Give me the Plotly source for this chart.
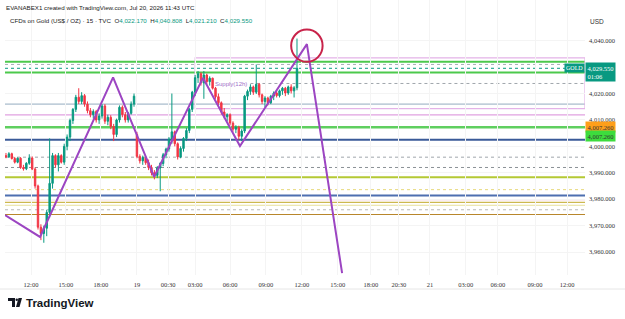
import plotly.graph_objects as go

# ---------------- data ----------------
bar_index = list(range(101))
opens = [3996.5, 3996.0, 3997.2, 3995.4, 3994.0, 3995.5, 3992.0, 3991.5, 3993.6, 3995.6,
         3991.4, 3985.0, 3969.4, 3967.0, 3969.0, 3975.0, 3986.0, 3996.5, 3993.0, 3996.5,
         3994.0, 4000.0, 4003.5, 4009.8, 4014.0, 4018.6, 4017.0, 4019.2, 4016.0, 4013.5,
         4012.0, 4013.2, 4010.0, 4011.5, 4015.3, 4009.5, 4011.0, 4007.5, 4004.5, 4010.0,
         4014.8, 4012.0, 4010.0, 4012.5, 4016.0, 4004.5, 3996.2, 3994.5, 3995.8, 3993.8,
         3992.0, 3990.0, 3989.0, 3991.8, 3993.5, 3996.8, 3999.0, 4002.8, 4005.5, 4001.0,
         3996.0, 3999.2, 4003.0, 4006.0, 4014.0, 4020.5, 4026.0, 4027.5, 4024.0, 4027.0,
         4024.5, 4025.8, 4022.0, 4018.8, 4016.5, 4013.0, 4011.2, 4012.0, 4008.8, 4006.5,
         4007.2, 4003.8, 4005.8, 4019.0, 4020.8, 4022.5, 4020.5, 4023.5, 4019.5, 4017.0,
         4018.3, 4016.5, 4019.0, 4020.2, 4019.2, 4021.0, 4022.0, 4020.2, 4022.5, 4021.0,
         4022.17]
highs = [3997.5, 3997.8, 3997.6, 3996.0, 3995.8, 3995.9, 3993.0, 3994.0, 3997.0, 3996.2,
         3992.0, 3985.5, 3970.5, 3970.0, 3976.0, 4003.0, 3997.5, 3997.0, 3997.5, 3997.0,
         4001.0, 4004.5, 4010.5, 4014.5, 4019.5, 4022.0, 4020.5, 4019.8, 4017.0, 4014.5,
         4014.0, 4013.8, 4012.5, 4016.0, 4016.0, 4012.0, 4011.8, 4008.5, 4010.5, 4015.5,
         4015.5, 4013.0, 4013.0, 4017.0, 4020.0, 4005.5, 3997.0, 3996.5, 3996.3, 3995.0,
         3993.0, 3991.0, 3992.5, 3994.0, 3997.5, 3999.5, 4003.5, 4020.0, 4006.0, 4001.5,
         4000.0, 4003.5, 4007.0, 4014.5, 4021.0, 4027.0, 4028.5, 4028.0, 4028.5, 4027.5,
         4026.5, 4026.0, 4022.5, 4020.0, 4017.0, 4014.5, 4012.5, 4012.5, 4009.5, 4008.0,
         4007.8, 4006.5, 4019.5, 4021.5, 4023.5, 4023.0, 4031.0, 4024.0, 4020.0, 4019.0,
         4018.8, 4019.5, 4020.8, 4021.0, 4021.5, 4022.5, 4022.5, 4023.0, 4023.5, 4022.8,
         4040.808]
lows = [3995.5, 3995.6, 3995.0, 3993.5, 3993.6, 3991.5, 3990.8, 3991.0, 3993.0, 3991.0,
        3984.0, 3968.5, 3964.5, 3963.5, 3966.0, 3973.0, 3984.0, 3992.0, 3990.5, 3993.5,
        3993.0, 3998.5, 4002.0, 4008.5, 4013.0, 4016.0, 4016.0, 4015.0, 4012.5, 4011.0,
        4010.5, 4009.0, 4008.5, 4010.5, 4008.5, 4008.0, 4006.5, 4002.0, 4003.5, 4009.0,
        4011.0, 4009.0, 4009.0, 4012.0, 4015.0, 3995.5, 3993.5, 3993.0, 3993.0, 3991.0,
        3989.0, 3987.5, 3988.0, 3983.0, 3992.5, 3995.5, 3998.0, 4001.0, 4000.0, 3995.0,
        3995.5, 3998.0, 4002.0, 4005.0, 4013.0, 4019.0, 4024.0, 4023.0, 4018.0, 4023.5,
        4023.0, 4021.5, 4018.0, 4015.5, 4012.0, 4010.5, 4009.5, 4008.0, 4005.5, 4005.0,
        4002.5, 4002.0, 4005.0, 4017.5, 4019.5, 4019.5, 4019.8, 4018.5, 4016.0, 4014.8,
        4015.5, 4016.0, 4017.5, 4018.5, 4018.5, 4019.5, 4019.0, 4019.5, 4020.0, 4018.5,
        4021.21]
closes = [3996.0, 3997.2, 3995.4, 3994.0, 3995.5, 3992.0, 3991.5, 3993.6, 3995.6, 3991.4,
          3985.0, 3969.4, 3967.0, 3969.0, 3975.0, 3986.0, 3996.5, 3993.0, 3996.5, 3994.0,
          4000.0, 4003.5, 4009.8, 4014.0, 4018.6, 4017.0, 4019.2, 4016.0, 4013.5, 4012.0,
          4013.2, 4010.0, 4011.5, 4015.3, 4009.5, 4011.0, 4007.5, 4004.5, 4010.0, 4014.8,
          4012.0, 4010.0, 4012.5, 4016.0, 4019.0, 3996.2, 3994.5, 3995.8, 3993.8, 3992.0,
          3990.0, 3989.0, 3991.8, 3993.5, 3996.8, 3999.0, 4002.8, 4005.5, 4001.0, 3996.0,
          3999.2, 4003.0, 4006.0, 4014.0, 4020.5, 4026.0, 4027.5, 4024.0, 4027.0, 4024.5,
          4025.8, 4022.0, 4018.8, 4016.5, 4013.0, 4011.2, 4012.0, 4008.8, 4006.5, 4007.2,
          4003.8, 4005.8, 4019.0, 4020.8, 4022.5, 4020.5, 4023.5, 4019.5, 4017.0, 4018.3,
          4016.5, 4019.0, 4020.2, 4019.2, 4021.0, 4022.0, 4020.2, 4022.5, 4021.0, 4022.17,
          4029.55]

time_tick_pos = [8.6, 20.6, 32.6, 45, 55.7, 65, 77, 89.3, 101.7, 114, 125.4, 135, 145.7, 158, 169, 181.8, 192.8]
time_tick_text = ["12:00", "15:00", "18:00", "19", "00:30", "03:00", "06:00", "09:00", "12:00",
                  "15:00", "18:00", "20:30", "21", "03:00", "06:00", "09:00", "12:00"]
price_tick_vals = [4040, 4020, 4010, 4000, 3990, 3980, 3970, 3960]
price_tick_text = ["4,040.000", "4,020.000", "4,010.000", "4,000.000", "3,990.000",
                   "3,980.000", "3,970.000", "3,960.000"]

# zigzag drawing
zz_x = [-0.34, 11.7, 36.8, 50.9, 67.7, 80.4, 103.4, 115.5]
zz_y = [3974.0, 3965.7, 4026.1, 3988.4, 4025.9, 4000.1, 4038.7, 3952.0]

# horizontal levels: price, color, width, dash
levels = [
    (4032.0, "#4cc94c", 2, "solid"),
    (4031.0, "#a8b0b8", 1, "dot"),
    (4028.0, "#4cc94c", 2, "solid"),
    (4016.0, "#93abbf", 1, "solid"),
    (4011.9, "#d98ad9", 1, "solid"),
    (4007.26, "#5fcf5f", 2.5, "solid"),
    (4002.5, "#3a5a98", 2, "solid"),
    (3995.9, "#a0a6ac", 1, "dot"),
    (3992.0, "#8a9096", 1, "dot"),
    (3988.3, "#b5c934", 2, "solid"),
    (3983.6, "#e6d87a", 1, "dot"),
    (3981.4, "#4d6fb0", 1.8, "solid"),
    (3979.8, "#e9a3c0", 1, "solid"),
    (3978.8, "#cdb850", 1.3, "solid"),
    (3977.7, "#e8e09a", 1, "solid"),
    (3976.0, "#b8b8b8", 1, "dot"),
    (3974.2, "#b8862b", 1.2, "solid"),
]
supply_zone = (65.0, 4033.5, 4014.3)  # start index, top, bottom
last_price = 4029.55
level_label_price = 4007.26

UP = "#089981"
DOWN = "#f23645"

fig = go.Figure()

for p, c, w, d in levels:
    fig.add_shape(type="line", xref="paper", x0=0, x1=1, yref="y", y0=p, y1=p,
                  line=dict(color=c, width=w, dash=d), layer="below")

# dotted level only on right part
fig.add_shape(type="line", xref="x", x0=84, x1=198.97, yref="y", y0=4023.8, y1=4023.8,
              line=dict(color="#a0a6ac", width=1, dash="dot"), layer="below")
# current price line
fig.add_shape(type="line", xref="paper", x0=0, x1=1, yref="y", y0=last_price, y1=last_price,
              line=dict(color=UP, width=1, dash="dot"), layer="below")
# supply zone rectangle
fig.add_shape(type="rect", xref="x", x0=supply_zone[0], x1=198.97, yref="y",
              y0=supply_zone[2], y1=supply_zone[1],
              line=dict(color="#e3b3e8", width=1.2), fillcolor="rgba(0,0,0,0)", layer="below")

fig.add_trace(go.Candlestick(
    x=bar_index, open=opens, high=highs, low=lows, close=closes,
    increasing=dict(line=dict(color=UP, width=1), fillcolor=UP),
    decreasing=dict(line=dict(color=DOWN, width=1), fillcolor=DOWN),
    whiskerwidth=0, showlegend=False, hoverinfo="skip"))

fig.add_trace(go.Scatter(x=zz_x, y=zz_y, mode="lines",
                         line=dict(color="#9c45c2", width=2), showlegend=False, hoverinfo="skip"))

# red circle
cx, cy = 103.4, 4038.1
fig.add_shape(type="circle", xref="x", yref="y", x0=cx - 5.4, x1=cx + 5.4, y0=cy - 6.1, y1=cy + 6.1,
              line=dict(color="#c8234a", width=2))

fig.add_annotation(x=71, y=4023.6, xref="x", yref="y", text="Supply(12h)", showarrow=False,
                   xanchor="left", font=dict(size=6, color="#a070c8", family="Liberation Sans"))

# right side labels
fig.add_annotation(x=1, y=last_price, xref="paper", yref="y", text="GOLD", showarrow=False,
                   xanchor="right", yanchor="middle", yshift=0, bgcolor=UP,
                   font=dict(size=6, color="white", family="Liberation Serif"), borderpad=1)
fig.add_annotation(x=1, y=last_price, xref="paper", yref="y", text="4,029.550<br>01:06",
                   showarrow=False, xanchor="left", yanchor="top", yshift=6, bgcolor=UP, align="left",
                   font=dict(size=6.5, color="white", family="Liberation Serif"), borderpad=1.5)
fig.add_annotation(x=1, y=level_label_price, xref="paper", yref="y", text="4,007.260",
                   showarrow=False, xanchor="left", yanchor="middle", bgcolor="#ff9f1a",
                   font=dict(size=6.5, color="#333", family="Liberation Serif"), borderpad=1.5)
fig.add_annotation(x=1, y=level_label_price, xref="paper", yref="y", text="4,007.260",
                   showarrow=False, xanchor="left", yanchor="middle", yshift=-9, bgcolor="#3ddc3d",
                   font=dict(size=6.5, color="#333", family="Liberation Serif"), borderpad=1.5)

def px(xp):
    return (xp - 5) / 580.0

def py(yp):
    return (275 - yp) / 275.0

fig.add_annotation(x=px(597), y=py(22), xref="paper", yref="paper", text="USD", showarrow=False,
                   xanchor="center", yanchor="middle", font=dict(size=6.5, color="#333", family="Liberation Sans"))
fig.add_annotation(x=px(4), y=py(7), xref="paper", yref="paper",
                   text="EVANABEX1 created with TradingView.com, Jul 20, 2026 11:43 UTC",
                   showarrow=False, xanchor="left", yanchor="middle",
                   font=dict(size=6.2, color="#222", family="Liberation Sans"))
g = UP
fig.add_annotation(x=px(8), y=py(20), xref="paper", yref="paper",
                   text=("CFDs on Gold (US$ / OZ) · 15 · TVC  "
                         f"O<span style='color:{g}'>4,022.170</span>  "
                         f"H<span style='color:{g}'>4,040.808</span>  "
                         f"L<span style='color:{g}'>4,021.210</span>  "
                         f"C<span style='color:{g}'>4,029.550</span>"),
                   showarrow=False, xanchor="left", yanchor="middle",
                   font=dict(size=6.2, color="#222", family="Liberation Sans"))
fig.add_annotation(x=px(24), y=py(303), xref="paper", yref="paper", text="<b>TradingView</b>",
                   showarrow=False, xanchor="left", yanchor="middle",
                   font=dict(size=11.5, color="#131722", family="Liberation Sans"))
# simple TV logo
fig.add_shape(type="rect", xref="paper", yref="paper", x0=px(8), x1=px(15), y0=py(301), y1=py(298),
              fillcolor="#131722", line_width=0)
fig.add_shape(type="rect", xref="paper", yref="paper", x0=px(12), x1=px(15), y0=py(307), y1=py(298),
              fillcolor="#131722", line_width=0)
fig.add_shape(type="circle", xref="paper", yref="paper", x0=px(15.5), x1=px(18), y0=py(301), y1=py(298.5),
              fillcolor="#131722", line_width=0)
fig.add_shape(type="path", xref="paper", yref="paper",
              path=f"M {px(18.5)} {py(298)} L {px(22)} {py(298)} L {px(19.5)} {py(307)} L {px(16)} {py(307)} Z",
              fillcolor="#131722", line_width=0)
# bottom separator
fig.add_shape(type="line", xref="paper", yref="paper", x0=px(0), x1=px(625), y0=py(289), y1=py(289),
              line=dict(color="#e6e6e6", width=1))

fig.update_layout(
    width=625, height=319, margin=dict(l=5, r=40, t=0, b=44),
    paper_bgcolor="white", plot_bgcolor="white",
    xaxis=dict(range=[-0.34, 198.97], tickmode="array", tickvals=time_tick_pos, ticktext=time_tick_text,
               showgrid=True, gridcolor="#f4f4f4", zeroline=False, showline=False,
               rangeslider=dict(visible=False), ticks="", ticklabelstandoff=4,
               tickfont=dict(size=6.5, color="#333", family="Liberation Serif")),
    yaxis=dict(range=[3951.3, 4055.4], side="right", tickmode="array", tickvals=price_tick_vals,
               ticktext=price_tick_text, showgrid=True, gridcolor="#f4f4f4", zeroline=False,
               showline=False, ticks="", ticklabelstandoff=3,
               tickfont=dict(size=6.5, color="#333", family="Liberation Serif")),
    hovermode=False,
)

fig.write_html("out.html")
